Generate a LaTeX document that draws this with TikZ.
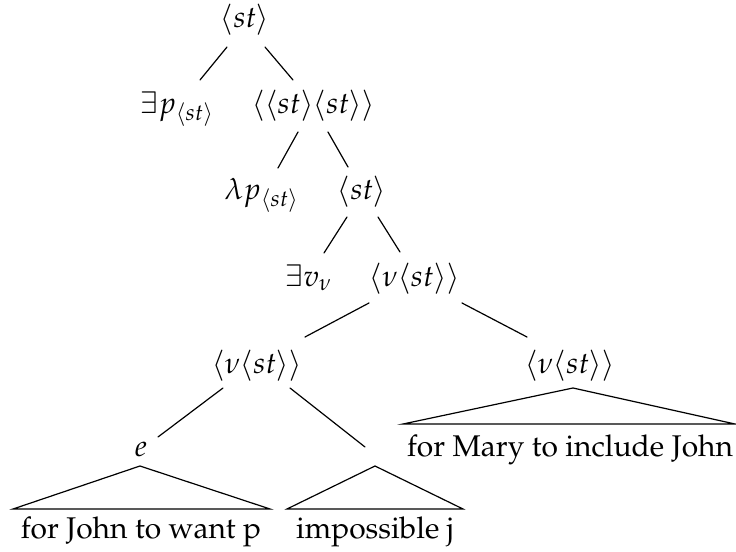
\documentclass[tikz,border=0pt]{standalone}
\usepackage[T1]{fontenc}
\usepackage{mathpazo}
\begin{document}
\begin{tikzpicture}[x=0.334pt,y=-0.334pt,
  lab/.style={anchor=base,inner sep=0pt,font=\fontsize{10}{12}\selectfont},
  edge/.style={line width=0.4pt,line cap=round},
  roof/.style={line width=0.4pt,line join=miter}]
\useasboundingbox (0,0) rectangle (736,552);
% labels
\node[lab] (root) at (245,27) {$\langle st\rangle$};
\node[lab] (ep) at (177.5,113) {$\exists p_{\langle st\rangle}$};
\node[lab] (pair) at (313.5,113) {$\langle\langle st\rangle\langle st\rangle\rangle$};
\node[lab] (lp) at (262,199) {$\lambda p_{\langle st\rangle}$};
\node[lab] (st3) at (362,199) {$\langle st\rangle$};
\node[lab] (ev) at (309,286) {$\exists v_\nu$};
\node[lab] (nu1) at (414.5,286) {$\langle\nu\langle st\rangle\rangle$};
\node[lab] (nu2) at (257,373) {$\langle\nu\langle st\rangle\rangle$};
\node[lab] (nu3) at (570,373) {$\langle\nu\langle st\rangle\rangle$};
\node[lab] (e) at (141,456) {$e$};
\node[lab] (jw) at (141,538) {for John to want p};
\node[lab] (ij) at (375,538) {impossible j};
\node[lab] (mj) at (570,456) {for Mary to include John};
% edge end points
\coordinate (r1) at (227,47);  \coordinate (r1e) at (200,80);
\coordinate (r2) at (265,47);  \coordinate (r2e) at (293,80);
\coordinate (p1) at (298,132); \coordinate (p1e) at (278,168);
\coordinate (p2) at (328,132); \coordinate (p2e) at (348,167);
\coordinate (s1) at (347,217); \coordinate (s1e) at (324,253);
\coordinate (s2) at (378,217); \coordinate (s2e) at (400,252);
\coordinate (n1) at (369,303); \coordinate (n1e) at (305,337);
\coordinate (n2) at (462,303); \coordinate (n2e) at (527,337);
\coordinate (m1) at (223,388); \coordinate (m1e) at (158,437);
\coordinate (m2) at (290,388); \coordinate (m2e) at (365,447);
% roofs
\coordinate (ea) at (140,466); \coordinate (eb1) at (13,509); \coordinate (eb2) at (270,509);
\coordinate (ia) at (375,466); \coordinate (ib1) at (287,509); \coordinate (ib2) at (463,509);
\coordinate (ma) at (573,388); \coordinate (mb1) at (403,424); \coordinate (mb2) at (735,424);
\draw[edge] (r1) -- (r1e);
\draw[edge] (r2) -- (r2e);
\draw[edge] (p1) -- (p1e);
\draw[edge] (p2) -- (p2e);
\draw[edge] (s1) -- (s1e);
\draw[edge] (s2) -- (s2e);
\draw[edge] (n1) -- (n1e);
\draw[edge] (n2) -- (n2e);
\draw[edge] (m1) -- (m1e);
\draw[edge] (m2) -- (m2e);
\draw[roof] (eb1) -- (ea) -- (eb2) -- cycle;
\draw[roof] (ib1) -- (ia) -- (ib2) -- cycle;
\draw[roof] (mb1) -- (ma) -- (mb2) -- cycle;
\end{tikzpicture}
\end{document}
